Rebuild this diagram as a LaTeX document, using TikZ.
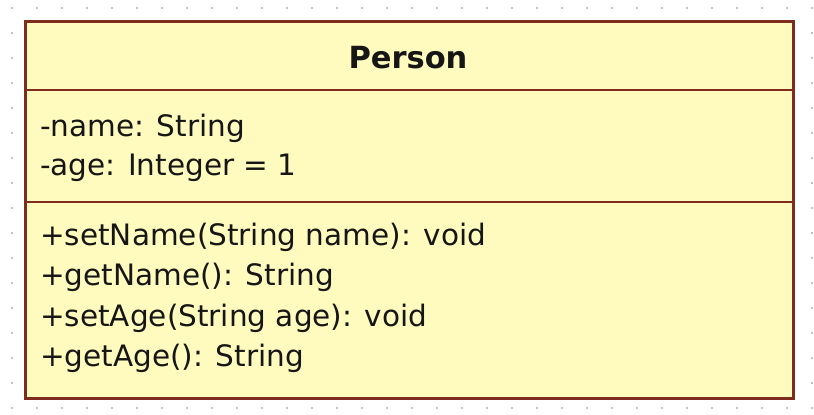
\documentclass[tikz,border=0pt]{standalone}
\usepackage{fontspec}
\setmainfont{DejaVu Sans}
\definecolor{boxfill}{HTML}{FFFBBE}
\definecolor{boxline}{HTML}{7E2C1E}
\definecolor{dotc}{HTML}{B0B0B0}
\definecolor{txt}{HTML}{161616}
\tikzset{
  classbox/.style={draw=boxline, line width=2.6pt, fill=boxfill, anchor=north west, inner sep=0pt, minimum width=768pt, minimum height=377pt},
  divider/.style={draw=boxline, line width=2pt},
  member/.style={anchor=base west, inner sep=0pt, text=txt, font=\fontsize{29.5}{36}\selectfont},
  title/.style={anchor=base, inner sep=0pt, text=txt, font=\fontsize{30.5}{36}\selectfont\bfseries},
}
\begin{document}
\begin{tikzpicture}[x=1pt,y=-1pt]
\useasboundingbox (0,0) rectangle (814,415);
\fill[white] (0,0) rectangle (814,415);
\foreach \i in {0,...,32} {
  \foreach \j in {0,...,16} {
    \fill[dotc] (12+25*\i, 8+25*\j) circle (1.05);
  }
}
\node (box) [classbox] at (24,20) {};
\coordinate (d1l) at (24,90);
\coordinate (d1r) at (792,90);
\coordinate (d2l) at (24,202);
\coordinate (d2r) at (792,202);
\draw[divider] (d1l) -- (d1r);
\draw[divider] (d2l) -- (d2r);
\node (title) [title] at (408,68) {Person};
\node (a1) [member] at (40,136) {-name: String};
\node (a2) [member] at (40,175) {-age: Integer = 1};
\node (m1) [member] at (40,245) {+setName(String name): void};
\node (m2) [member] at (40,285) {+getName(): String};
\node (m3) [member] at (40,326) {+setAge(String age): void};
\node (m4) [member] at (40,366) {+getAge(): String};
\end{tikzpicture}
\end{document}
